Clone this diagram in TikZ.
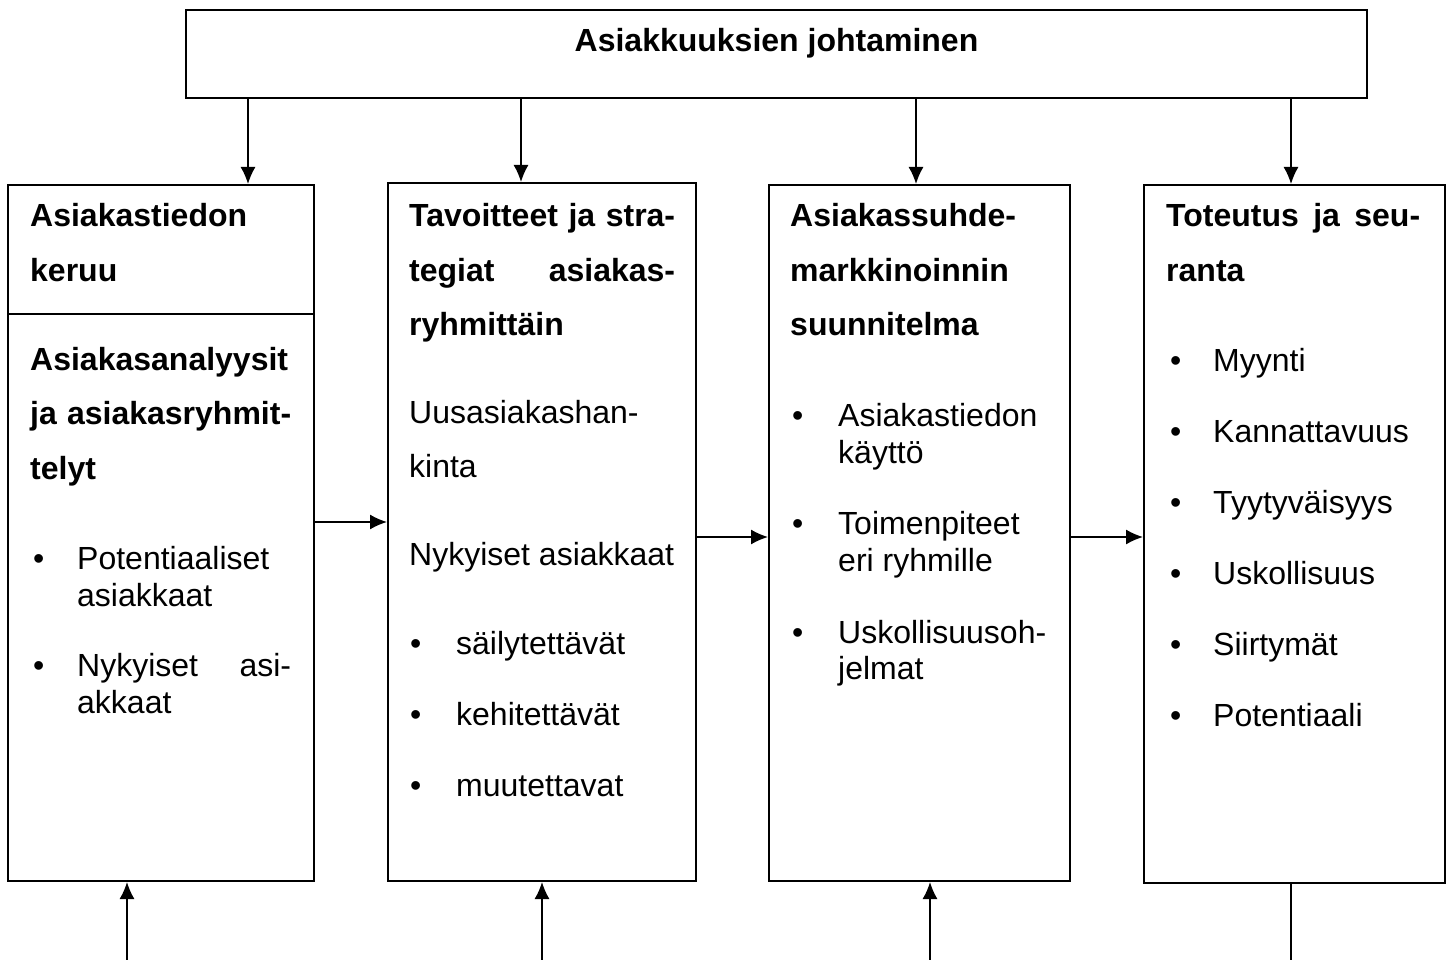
\documentclass[tikz,border=0pt]{standalone}
\usepackage{fontspec}
\setmainfont{Liberation Sans}
\usetikzlibrary{arrows.meta}
\begin{document}
\begin{tikzpicture}[x=1pt,y=-1pt,
 box/.style={draw,line width=2pt,rectangle,inner sep=0pt},
 arr/.style={line width=1.5pt,-{Latex[length=17pt,width=15pt]}},
 plainline/.style={line width=1.5pt},
 ln/.style={anchor=base west,inner sep=0pt,font=\fontsize{32}{37}\selectfont},
 bl/.style={ln,font=\fontsize{32}{37}\selectfont\bfseries}]
\useasboundingbox (0,0) rectangle (1449,960);
% boxes
\node[box,minimum width=1181pt,minimum height=88pt] (top) at (776.5,54) {};
\node[box,minimum width=306pt,minimum height=696pt] (b1) at (161,533) {};
\node[box,minimum width=308pt,minimum height=698pt] (b2) at (542,532) {};
\node[box,minimum width=301pt,minimum height=696pt] (b3) at (919.5,533) {};
\node[box,minimum width=301pt,minimum height=698pt] (b4) at (1294.5,534) {};
\draw[line width=2pt] (b1.west |- 0,314) -- (b1.east |- 0,314);
% title
\node[bl,anchor=base] (title) at (776.5,52) {Asiakkuuksien johtaminen};
% arrows top
\draw[arr] (top.south -| 248,0) -- (b1.north -| 248,0);
\draw[arr] (top.south -| 521,0) -- (b2.north -| 521,0);
\draw[arr] (top.south -| 916,0) -- (b3.north -| 916,0);
\draw[arr] (top.south -| 1291,0) -- (b4.north -| 1291,0);
% horizontal arrows
\draw[arr] (b1.east |- 0,522) -- (b2.west |- 0,522);
\draw[arr] (b2.east |- 0,537) -- (b3.west |- 0,537);
\draw[arr] (b3.east |- 0,537) -- (b4.west |- 0,537);
% bottom
\coordinate (f1) at (127,960);
\coordinate (f2) at (542,960);
\coordinate (f3) at (930,960);
\coordinate (f4) at (1291,960);
\draw[arr] (f1) -- (f1 |- b1.south);
\draw[arr] (f2) -- (f2 |- b2.south);
\draw[arr] (f3) -- (f3 |- b3.south);
\draw[plainline] (b4.south -| f4) -- (f4);
% box 1 text
\node[bl] (a1) at (30,227) {Asiakastiedon};
\node[bl] (a2) at (30,281) {keruu};
\node[bl] (a3) at (30,370) {Asiakasanalyysit};
\node[bl] (a4) at (30,424) {\makebox[261pt][s]{ja asiakasryhmit-}};
\node[bl] (a5) at (30,479) {telyt};
\node[ln] (a6b) at (33,569) {•};
\node[ln] (a6) at (77,569) {Potentiaaliset};
\node[ln] (a7) at (77,606) {asiakkaat};
\node[ln] (a8b) at (33,676) {•};
\node[ln] (a8) at (77,676) {\makebox[214pt][s]{Nykyiset asi-}};
\node[ln] (a9) at (77,713) {akkaat};
% box 2 text
\node[bl] (c1) at (409,227) {\makebox[266pt][s]{Tavoitteet ja stra-}};
\node[bl] (c2) at (409,281) {\makebox[266pt][s]{tegiat asiakas-}};
\node[bl] (c3) at (409,335) {ryhmittäin};
\node[ln] (c4) at (409,423) {Uusasiakashan-};
\node[ln] (c5) at (409,477) {kinta};
\node[ln] (c6) at (409,565) {Nykyiset asiakkaat};
\node[ln] (c7b) at (410,654) {•};
\node[ln] (c7) at (456,654) {säilytettävät};
\node[ln] (c8b) at (410,725) {•};
\node[ln] (c8) at (456,725) {kehitettävät};
\node[ln] (c9b) at (410,796) {•};
\node[ln] (c9) at (456,796) {muutettavat};
% box 3 text
\node[bl] (d1) at (790,227) {Asiakassuhde-};
\node[bl] (d2) at (790,281) {markkinoinnin};
\node[bl] (d3) at (790,335) {suunnitelma};
\node[ln] (d4b) at (792,426) {•};
\node[ln] (d4) at (838,426) {Asiakastiedon};
\node[ln] (d5) at (838,463) {käyttö};
\node[ln] (d6b) at (792,534) {•};
\node[ln] (d6) at (838,534) {Toimenpiteet};
\node[ln] (d7) at (838,571) {eri ryhmille};
\node[ln] (d8b) at (792,643) {•};
\node[ln] (d8) at (838,643) {Uskollisuusoh-};
\node[ln] (d9) at (838,679) {jelmat};
% box 4 text
\node[bl] (e1) at (1166,227) {\makebox[254pt][s]{Toteutus ja seu-}};
\node[bl] (e2) at (1166,281) {ranta};
\node[ln] (e3b) at (1170,371) {•};
\node[ln] (e3) at (1213,371) {Myynti};
\node[ln] (e4b) at (1170,442) {•};
\node[ln] (e4) at (1213,442) {Kannattavuus};
\node[ln] (e5b) at (1170,513) {•};
\node[ln] (e5) at (1213,513) {Tyytyväisyys};
\node[ln] (e6b) at (1170,584) {•};
\node[ln] (e6) at (1213,584) {Uskollisuus};
\node[ln] (e7b) at (1170,655) {•};
\node[ln] (e7) at (1213,655) {Siirtymät};
\node[ln] (e8b) at (1170,726) {•};
\node[ln] (e8) at (1213,726) {Potentiaali};
\end{tikzpicture}
\end{document}
